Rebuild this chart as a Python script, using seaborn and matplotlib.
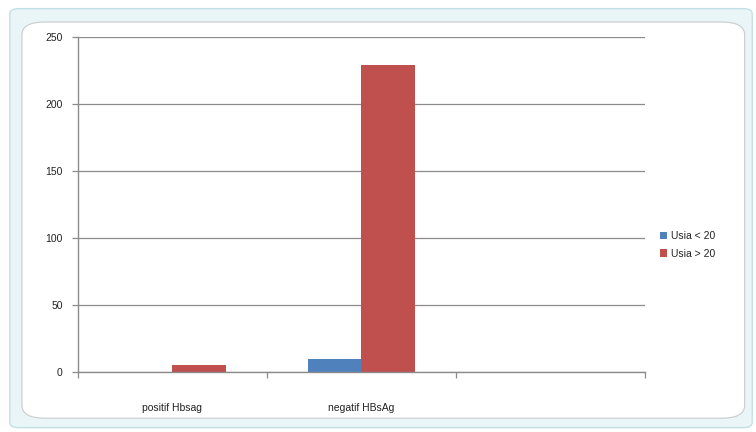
import matplotlib
matplotlib.use("Agg")
import matplotlib.pyplot as plt
import seaborn as sns
import pandas as pd
import numpy as np
from matplotlib.patches import FancyBboxPatch

categories = ["positif Hbsag", "negatif HBsAg", " "]
series_names = ["Usia < 20", "Usia > 20"]
usia_lt20 = [0, 10, np.nan]
usia_gt20 = [5, 229, np.nan]
y_ticks = [0, 50, 100, 150, 200, 250]
colors = ["#4F81BD", "#C0504D"]

rows = []
for c, a, b in zip(categories, usia_lt20, usia_gt20):
    rows.append({"cat": c, "series": series_names[0], "val": a})
    rows.append({"cat": c, "series": series_names[1], "val": b})
df = pd.DataFrame(rows)

sns.set_theme(style="white")
plt.rcParams["font.family"] = ["Liberation Sans", "DejaVu Sans"]

fig = plt.figure(figsize=(7.56, 4.32), dpi=100)
fig.patch.set_facecolor("white")

# chart frame (Excel-like selection border)
outer = FancyBboxPatch((0.013, 0.01), 0.982, 0.97, boxstyle="round,pad=0,rounding_size=0.012",
                       transform=fig.transFigure, facecolor="#eaf5f8", edgecolor="#c4e0e7",
                       linewidth=1.0, zorder=-2)
fig.patches.append(outer)
inner = FancyBboxPatch((0.029, 0.032), 0.956, 0.917, boxstyle="round,pad=0,rounding_size=0.03",
                       transform=fig.transFigure, facecolor="white", edgecolor="#c8cccc",
                       linewidth=0.8, zorder=-1)
fig.patches.append(inner)

ax = fig.add_axes([0.103, 0.139, 0.750, 0.775])
ax.set_zorder(3)
ax.set_facecolor("none")
sns.barplot(data=df, x="cat", y="val", hue="series", order=categories,
            hue_order=series_names, palette=colors, width=0.57, gap=0,
            saturation=1, linewidth=0, ax=ax, legend=True)

ax.set_xlim(-0.5, len(categories) - 0.5)
ax.set_ylim(0, 250)
ax.set_yticks(y_ticks)
ax.set_yticklabels([str(v) for v in y_ticks])
ax.yaxis.grid(True, color="#8c8c8c", linewidth=0.9)
ax.set_axisbelow(True)
ax.set_xlabel("")
ax.set_ylabel("")

for s in ["top", "right"]:
    ax.spines[s].set_visible(False)
for s in ["left", "bottom"]:
    ax.spines[s].set_color("#8c8c8c")
    ax.spines[s].set_linewidth(1.0)

ax.tick_params(axis="y", which="major", left=True, length=4, width=0.9, color="#8c8c8c",
               labelsize=7.5, labelcolor="#222222", pad=7)
ax.tick_params(axis="x", which="major", bottom=False, labelsize=7.5,
               labelcolor="#222222", pad=16)
ax.set_xticks(np.arange(-0.5, len(categories), 1.0), minor=True)
ax.tick_params(axis="x", which="minor", bottom=True, length=4, width=0.9, color="#8c8c8c")

leg = ax.legend(loc="center left", bbox_to_anchor=(1.01, 0.38), frameon=False,
                fontsize=7.5, handlelength=0.7, handleheight=0.7, handletextpad=0.4,
                labelspacing=0.75)
for t in leg.get_texts():
    t.set_color("#222222")

fig.savefig("out.png", dpi=100, facecolor="white")
